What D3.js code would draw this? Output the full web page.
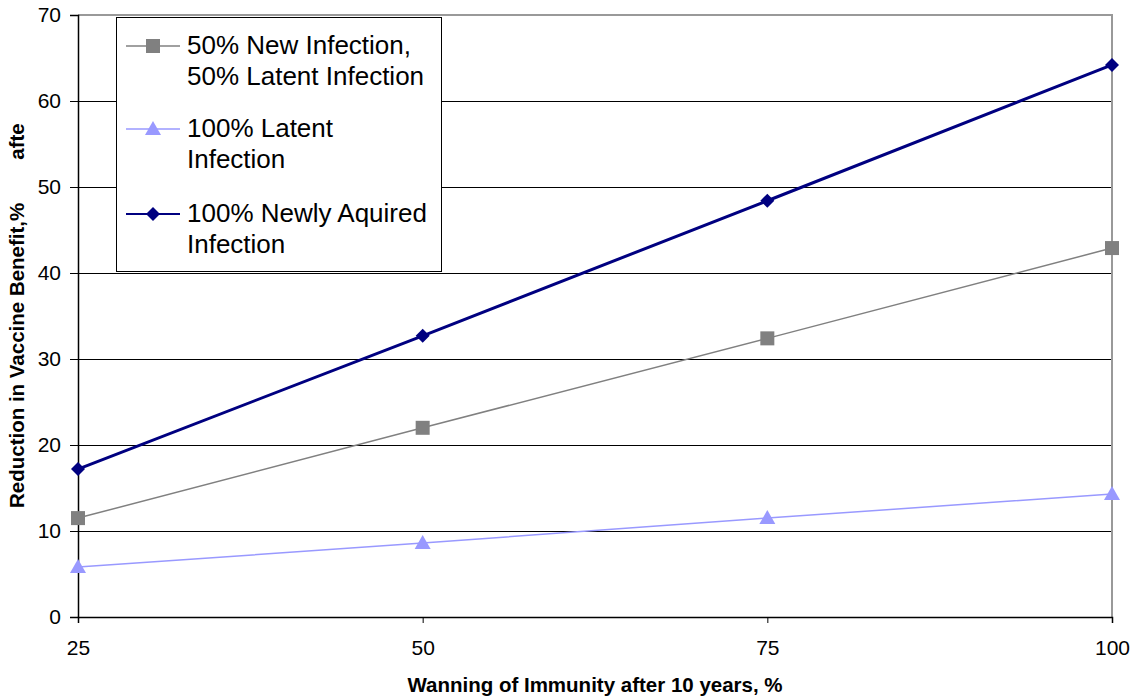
<!DOCTYPE html>
<html>
<head>
<meta charset="utf-8">
<script src="https://cdn.jsdelivr.net/npm/d3@7"></script>
<style>
  body { margin: 0; background: #fff; }
  text { font-family: "Liberation Sans", Arial, sans-serif; }
</style>
</head>
<body>
<div id="chart"></div>
<script>
var width = 1130,
    height = 697;

// data
var waning = [25, 50, 75, 100];
var mixed = [11.5, 22.0, 32.4, 42.9];
var latent = [5.8, 8.6, 11.5, 14.3];
var newly = [17.2, 32.7, 48.4, 64.2];
var yTicks = [0, 10, 20, 30, 40, 50, 60, 70];

var series = [
  {name: ["50% New Infection,", "50% Latent Infection"], values: mixed, color: "#808080", shape: "square", width: 1.5},
  {name: ["100% Latent", "Infection"], values: latent, color: "#9999ff", shape: "triangle", width: 1.5},
  {name: ["100% Newly Aquired", "Infection"], values: newly, color: "#000080", shape: "diamond", width: 3}
];

var plotLeft = 78, plotRight = 1112, plotTop = 15, plotBottom = 617;

var x = d3.scaleLinear().domain([25, 100]).range([plotLeft, plotRight]);
var y = d3.scaleLinear().domain([0, 70]).range([plotBottom, plotTop]);

var svg = d3.select("#chart").append("svg")
    .attr("width", width)
    .attr("height", height);

/* gridlines */
svg.append("g").selectAll("line")
    .data(yTicks.slice(1, -1))
    .enter().append("line")
    .attr("x1", plotLeft).attr("x2", plotRight)
    .attr("y1", function(d) { return Math.round(y(d)) + 0.5; })
    .attr("y2", function(d) { return Math.round(y(d)) + 0.5; })
    .style("stroke", "#000").style("stroke-width", 1);

/* top and right border in grey */
svg.append("path")
    .attr("d", "M" + plotLeft + "," + plotTop + "H" + plotRight + "V" + plotBottom)
    .style("fill", "none").style("stroke", "#999").style("stroke-width", 2);

/* axes */
var yAxis = svg.append("g")
    .attr("transform", "translate(" + plotLeft + ",0)")
    .call(d3.axisLeft(y).tickValues(yTicks).tickSize(8).tickPadding(9));
var xAxis = svg.append("g")
    .attr("transform", "translate(0," + plotBottom + ")")
    .call(d3.axisBottom(x).tickValues(waning).tickSize(6).tickPadding(17));

[xAxis, yAxis].forEach(function(a) {
  a.attr("font-size", null).attr("font-family", null);
  a.select(".domain").style("stroke", "#000").style("stroke-width", 1.5);
  a.selectAll(".tick line").style("stroke", "#000").style("stroke-width", 1);
  a.selectAll("text").style("font-size", "21px").style("fill", "#000");
});

/* axis titles */
svg.append("text")
    .attr("x", 595).attr("y", 692)
    .attr("text-anchor", "middle")
    .style("font-size", "20.5px").style("font-weight", "bold")
    .text("Wanning of Immunity after 10 years, %");

var yTitle = svg.append("text")
    .attr("transform", "translate(24,508) rotate(-90)")
    .style("font-size", "20.5px").style("font-weight", "bold")
    .text("Reduction in Vaccine Benefit,%");
yTitle.append("tspan").attr("dx", 43).text("afte");

/* markers */
function marker(g, shape, color, cx, cy) {
  if (shape === "square") {
    g.append("rect").attr("x", cx - 7).attr("y", cy - 7)
      .attr("width", 14).attr("height", 14).style("fill", color);
  } else if (shape === "triangle") {
    g.append("path").attr("d", "M" + cx + "," + (cy - 8) + "L" + (cx + 8) + "," + (cy + 6) + "L" + (cx - 8) + "," + (cy + 6) + "Z")
      .style("fill", color);
  } else {
    g.append("path").attr("d", "M" + cx + "," + (cy - 7) + "L" + (cx + 7) + "," + cy + "L" + cx + "," + (cy + 7) + "L" + (cx - 7) + "," + cy + "Z")
      .style("fill", color);
  }
}

var line = d3.line()
    .x(function(d, i) { return x(waning[i]); })
    .y(function(d) { return y(d); });

series.forEach(function(s) {
  var g = svg.append("g");
  g.append("path")
    .attr("d", line(s.values))
    .style("fill", "none").style("stroke", s.color).style("stroke-width", s.width);
  s.values.forEach(function(v, i) {
    marker(g, s.shape, s.color, x(waning[i]), y(v));
  });
});

/* legend */
var legend = svg.append("g");
legend.append("rect")
    .attr("x", 116.5).attr("y", 17.5).attr("width", 325).attr("height", 254)
    .style("fill", "#fff").style("stroke", "#000").style("stroke-width", 1);

var rowY = [46, 129, 214];
series.forEach(function(s, i) {
  var g = legend.append("g");
  g.append("line")
    .attr("x1", 126).attr("x2", 180)
    .attr("y1", rowY[i]).attr("y2", rowY[i])
    .style("stroke", s.color).style("stroke-width", s.width > 2 ? 2 : 1.5);
  marker(g, s.shape, s.color, 153, rowY[i]);
  s.name.forEach(function(t, j) {
    g.append("text")
      .attr("x", 187).attr("y", rowY[i] + 8 + j * 30.5)
      .style("font-size", "26px").style("fill", "#000")
      .text(t);
  });
});
</script>
</body>
</html>
